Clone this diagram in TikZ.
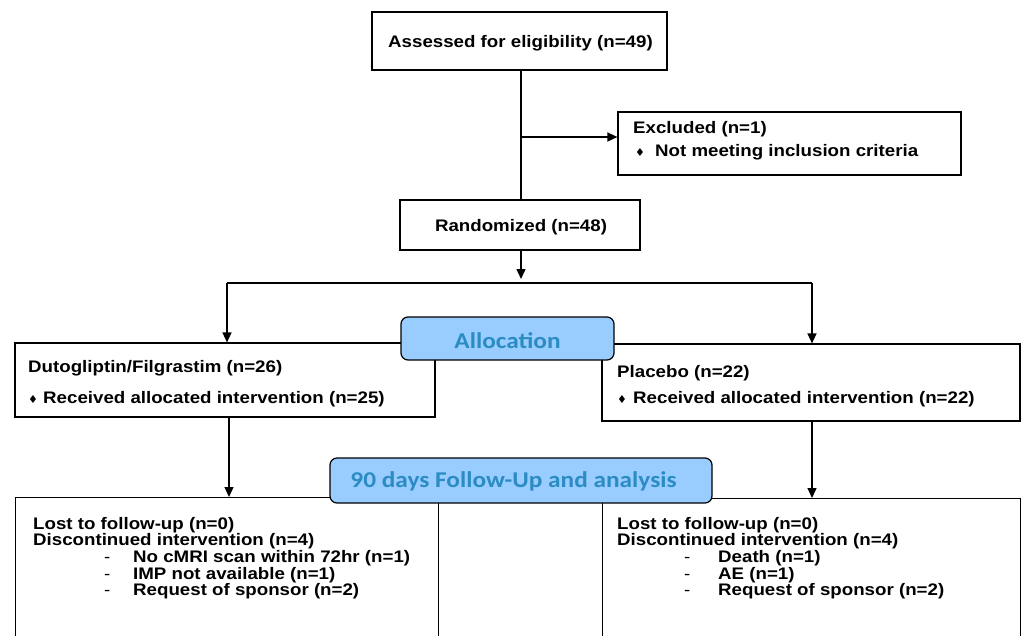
\documentclass[tikz,border=0pt]{standalone}
\usepackage{fontspec}
\setmainfont{Liberation Sans}[FakeStretch=1.12]
\newfontfamily\calib{Carlito}[FakeStretch=1.12]
\newfontfamily\djv{DejaVu Sans}
\usetikzlibrary{arrows.meta}
\definecolor{hdrfill}{HTML}{99CCFF}
\definecolor{hdrtext}{HTML}{2B8CC4}
\newcommand{\dmd}[1]{\makebox[#1][l]{\djv\fontsize{11}{11}\selectfont\raisebox{0pt}{♦}}}
\newcommand{\dsh}[1]{\makebox[#1][l]{\mdseries -}}
\begin{document}
\begin{tikzpicture}[x=1pt,y=-1pt,
  box/.style={draw, line width=1.2pt, inner sep=0pt},
  txt/.style={font=\bfseries\fontsize{16.7}{16.7}\selectfont, inner sep=0pt, anchor=base west},
  ltxt/.style={txt, text height=12pt, text depth=3.5pt},
  ctxt/.style={txt, anchor=base},
  hdr/.style={draw, line width=1.2pt, rounded corners=7pt, fill=hdrfill, inner sep=0pt},
  hdrtxt/.style={font=\calib\bfseries\fontsize{22.6}{22.6}\selectfont, text=hdrtext, inner sep=0pt, anchor=base},
  conn/.style={line width=1.3pt},
  arr/.style={conn, -{Triangle[length=10pt,width=9pt]}}]
\path[use as bounding box] (0,0) rectangle (1027,635);
\clip (0,0) rectangle (1027,635);

% boxes
\node[box, minimum width=295pt, minimum height=58pt] (assess) at (519.5,41) {};
\node[box, minimum width=343pt, minimum height=63pt] (excl) at (789.5,143.5) {};
\node[box, minimum width=240pt, minimum height=50pt] (rand) at (520,225) {};
\node[box, minimum width=420pt, minimum height=74pt] (armL) at (225,380) {};
\node[box, minimum width=418pt, minimum height=77pt] (armR) at (811,382.5) {};
\node[box, anchor=north west, minimum width=423pt, minimum height=180pt] (lostL) at (15,497) {};
\node[box, anchor=north west, minimum width=418pt, minimum height=180pt] (lostR) at (602,498) {};

% texts
\node[ctxt] (assessT) at (520.5,47) {Assessed for eligibility (n=49)};
\node[txt] (exclT1) at (633,133.3) {Excluded (n=1)};
\node[txt] (exclT2) at (635,156.3) {\dmd{20pt}Not meeting inclusion criteria};
\node[ctxt] (randT) at (521,231.3) {Randomized (n=48)};
\node[txt] (armLT1) at (28,372.3) {Dutogliptin/Filgrastim (n=26)};
\node[txt] (armLT2) at (28,403) {\dmd{15pt}Received allocated intervention (n=25)};
\node[txt] (armRT1) at (617,377.3) {Placebo (n=22)};
\node[txt] (armRT2) at (617,403) {\dmd{16pt}Received allocated intervention (n=22)};

\node[ltxt] (lostLT1) at (33,529) {Lost to follow-up (n=0)};
\node[ltxt] (lostLT2) at (33,545.7) {Discontinued intervention (n=4)};
\node[ltxt] (lostLT3) at (104,562.4) {\dsh{29pt}No cMRI scan within 72hr (n=1)};
\node[ltxt] (lostLT4) at (104,579.1) {\dsh{29pt}IMP not available (n=1)};
\node[ltxt] (lostLT5) at (104,595.8) {\dsh{29pt}Request of sponsor (n=2)};

\node[ltxt] (lostRT1) at (617,529) {Lost to follow-up (n=0)};
\node[ltxt] (lostRT2) at (617,545.7) {Discontinued intervention (n=4)};
\node[ltxt] (lostRT3) at (684,562.4) {\dsh{34pt}Death (n=1)};
\node[ltxt] (lostRT4) at (684,579.1) {\dsh{34pt}AE (n=1)};
\node[ltxt] (lostRT5) at (684,595.8) {\dsh{34pt}Request of sponsor (n=2)};

% connectors
\coordinate (exJ) at (521,137);
\coordinate (split) at (521,283);
\draw[conn] (assess.south -| exJ) -- (rand.north -| exJ);
\draw[arr] (exJ) -- (excl.west |- exJ);
\draw[arr, shorten >=4pt] (rand.south -| split) -- (split);
\draw[conn] (227,283) -- (812,283);
\draw[arr] (227,283) -- (armL.north -| 227,0);
\draw[arr] (812,283) -- (armR.north -| 812,0);
\draw[arr] (armL.south -| 229,0) -- (lostL.north -| 229,0);
\draw[arr] (armR.south -| 812,0) -- (lostR.north -| 812,0);

% headers
\node[hdr, minimum width=213pt, minimum height=43pt] (alloc) at (507.5,338.5) {};
\node[hdrtxt] (allocT) at (507.5,348.5) {Allocation};
\node[hdr, minimum width=382pt, minimum height=45pt] (follow) at (521,480.5) {};
\node[hdrtxt] (followT) at (513.5,487.5) {90 days Follow-Up and analysis};
\end{tikzpicture}
\end{document}
